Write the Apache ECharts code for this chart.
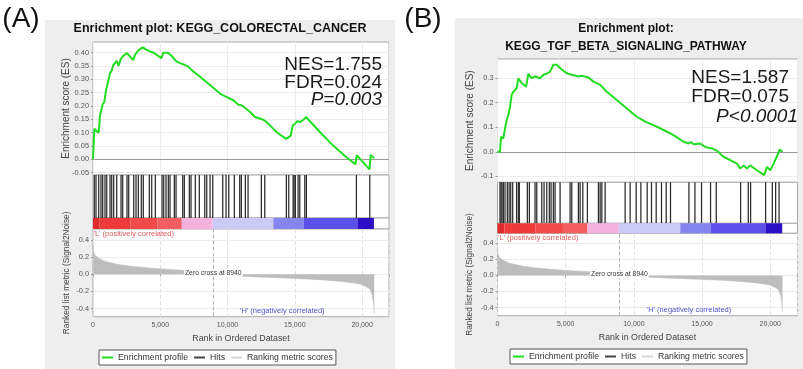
<!DOCTYPE html>
<html><head><meta charset="utf-8">
<script src="https://cdn.jsdelivr.net/npm/echarts@6/dist/echarts.min.js"></script>
<style>html,body{margin:0;padding:0;background:#fff}#c{width:803px;height:369px}</style>
</head><body><div id="c"></div>
<script>
// ================= DATA =================
const rankMax = 22000;
const xTicks = [0, 5000, 10000, 15000, 20000];
const zeroCross = 8940;

const esTicksA = [-0.05, 0.00, 0.05, 0.10, 0.15, 0.20, 0.25, 0.30, 0.35, 0.40];
const esTicksB = [-0.1, 0.0, 0.1, 0.2, 0.3];
const metricTicks = [-0.4, -0.2, 0.0, 0.2, 0.4];

// running enrichment score [rank, ES]
const esA = [[0,0],[25,-0.004],[99,0.114],[421,0.098],[520,0.164],[644,0.170],[719,0.206],[843,0.215],[967,0.259],[1066,0.278],[1165,0.284],[1264,0.322],[1388,0.332],[1512,0.353],[1636,0.360],[1760,0.369],[1908,0.350],[2057,0.375],[2206,0.385],[2330,0.379],[2503,0.398],[2800,0.382],[2999,0.372],[3123,0.391],[3370,0.408],[3494,0.403],[3693,0.419],[3990,0.410],[4238,0.404],[4486,0.400],[4734,0.391],[5081,0.379],[5229,0.400],[5601,0.398],[5849,0.387],[6221,0.366],[6468,0.360],[6840,0.353],[7088,0.347],[7336,0.334],[7955,0.309],[8699,0.278],[9442,0.246],[9938,0.233],[10434,0.221],[10806,0.204],[11053,0.202],[11673,0.177],[12045,0.158],[12664,0.148],[12912,0.139],[13656,0.101],[14349,0.076],[14523,0.082],[14697,0.088],[14845,0.126],[15019,0.133],[15192,0.143],[15390,0.139],[15638,0.148],[15836,0.158],[16877,0.101],[17869,0.050],[18860,0.006],[19504,-0.019],[19603,0.015],[20545,-0.038],[20644,0.016],[20892,0.003]];
const esB = [[0,0],[61,-0.007],[184,0.0],[257,0.061],[428,0.055],[551,0.095],[673,0.130],[795,0.150],[918,0.184],[1040,0.232],[1163,0.245],[1285,0.239],[1407,0.259],[1530,0.300],[1774,0.280],[2093,0.265],[2264,0.318],[2509,0.300],[2753,0.307],[3120,0.300],[3365,0.314],[3610,0.318],[3855,0.327],[4099,0.355],[4344,0.355],[4589,0.341],[4834,0.330],[5078,0.320],[5445,0.314],[5935,0.307],[6180,0.310],[6669,0.303],[7036,0.286],[7525,0.273],[8015,0.245],[8749,0.211],[9483,0.177],[10217,0.143],[10829,0.123],[11441,0.109],[12175,0.089],[12910,0.068],[13644,0.041],[14011,0.034],[14183,0.040],[14378,0.031],[14868,0.034],[15229,0.020],[15719,0.014],[16086,0.005],[16575,-0.020],[17065,-0.034],[17555,-0.048],[17800,-0.068],[18044,-0.055],[18289,-0.068],[18534,-0.055],[19024,-0.075],[19562,-0.095],[19758,-0.061],[20003,-0.075],[20248,-0.048],[20493,-0.018],[20688,0.010],[20900,0.0]];

// hit positions (rank)
const hitsA = [97,223,424,595,721,892,1019,1264,1390,1539,1762,2082,2208,2528,2655,3026,3197,3368,3591,3740,4186,4364,4632,5130,5257,5428,5599,5725,6045,6171,6669,6788,7160,7286,7606,7903,8305,8454,8699,8900,9643,9888,10089,10506,10907,11026,11323,11524,12513,12766,14372,14550,14870,14944,15041,15242,15368,15740,15859,19576,20572];
const hitsB = [184,260,330,430,551,720,850,969,1116,1400,1530,1601,2188,2335,2753,2878,3245,3414,3612,3803,3928,4097,4222,4589,5323,5448,5932,6057,6256,6593,7401,7526,7651,7893,9361,9728,10169,10514,10976,11292,11637,12026,12372,12687,14038,14479,14963,15624,16043,17827,18392,18561,19662,20154,20396,20646];

// ranked list metric [rank, value]
const metric = [[0,0.35],[25,0.27],[150,0.22],[400,0.19],[890,0.15],[1880,0.113],[3000,0.09],[4360,0.07],[5600,0.056],[6840,0.045],[8000,0.022],[8940,0],[10000,-0.012],[11800,-0.028],[14350,-0.045],[16850,-0.063],[18500,-0.085],[19330,-0.10],[20000,-0.12],[20570,-0.17],[20750,-0.24],[20850,-0.33],[20900,-0.46]];

// colour bar bands (rank ranges) and their level
const bandStart = [0, 500, 2800, 4800, 6600, 8900, 13400, 15650, 19650];
const bandEnd   = [500, 2800, 4800, 6600, 8900, 13400, 15650, 19650, 20880];
const bandLevel = [0, 1, 2, 3, 4, 5, 6, 7, 8];

const statsA = ['NES=1.755', 'FDR=0.024', 'P=0.003'];
const statsB = ['NES=1.587', 'FDR=0.075', 'P<0.0001'];
const titleA = ['Enrichment plot: KEGG_COLORECTAL_CANCER'];
const titleB = ['Enrichment plot:', 'KEGG_TGF_BETA_SIGNALING_PATHWAY'];
const legendNames = ['Enrichment profile', 'Hits', 'Ranking metric scores'];

// ================= STYLE / LAYOUT =================
const FONT = '"Liberation Sans", Arial, Helvetica, sans-serif';
const BAND_COLORS = ['#de2a2c', '#ee3a3b', '#f14a4b', '#f45e60', '#f5b2de', '#cbcbf6', '#8585ef', '#5b50e7', '#2c10c6'];
const GREEN = '#22dd22', BORDER = '#a9a9a9', GRIDC = '#ececec', PANEL_BG = '#eeeeee';

const panels = [
  { letter: '(A)', letterPos: [21, 19], bg: [45, 20, 350, 349],
    title: titleA, titleX: 220, titleY: [29], titleSize: 12.5,
    left: 93, width: 296,
    esFrame: [42, 175], esLab: [52.5, 172.5], esTicks: esTicksA, esDec: 2,
    hitsBot: 218, cbBot: 229, mBot: 316.7, mLab: [240, 308.5],
    es: esA, hits: hitsA, stats: statsA, statX: 382, statY: [65, 82.5, 100], statSize: 19,
    lPos: [93.5, 233.5], hPos: [240, 311], legendPos: [99, 350], esNameGap: 21.5, mNameGap: 22 },
  { letter: '(B)', letterPos: [423, 19], bg: [455, 18, 348, 351],
    title: titleB, titleX: 626, titleY: [29, 47], titleSize: 12,
    left: 497.5, width: 300,
    esFrame: [59, 182.3], esLab: [78.2, 176.4], esTicks: esTicksB, esDec: 1,
    hitsBot: 223.3, cbBot: 233.3, mBot: 315.7, mLab: [243.3, 307.5],
    es: esB, hits: hitsB, stats: statsB, statX: 789, statXLast: 798, statY: [77.3, 96.7, 116.7], statSize: 19,
    lPos: [498, 237.7], hPos: [646.7, 310], legendPos: [510, 349], esNameGap: 22.5, mNameGap: 23.5 }
];

const option = { animation: false, textStyle: { fontFamily: FONT },
  grid: [], xAxis: [], yAxis: [], series: [], graphic: [], legend: [] };

function hiddenAxis(gi, min, max) {
  return { type: 'value', gridIndex: gi, min: min, max: max, axisLabel: { show: false },
    axisTick: { show: false }, axisLine: { show: false }, splitLine: { show: false } };
}
function frameRange(labPx, framePx, ticks) {
  const tmin = ticks[0], tmax = ticks[ticks.length - 1];
  const ppu = (labPx[1] - labPx[0]) / (tmax - tmin);
  return [tmin - (framePx[1] - labPx[1]) / ppu, tmax + (labPx[0] - framePx[0]) / ppu];
}
function fmt(v, d) { if (Math.abs(v) < 1e-9) v = 0; return v.toFixed(d); }

panels.forEach(P => {
  const gi = option.grid.length, L = P.left, W = P.width;
  const frameGrid = (top, bot) => ({ left: L, top: top, width: W, height: bot - top, show: true,
    backgroundColor: '#fff', borderColor: BORDER, borderWidth: 1 });
  // 0 ES frame, 1 ES labels, 2 hits, 3 colour bar, 4 metric frame, 5 metric labels
  option.grid.push(frameGrid(P.esFrame[0], P.esFrame[1]));
  option.grid.push({ left: L, top: P.esLab[0], width: W, height: P.esLab[1] - P.esLab[0], show: false });
  option.grid.push(frameGrid(P.esFrame[1], P.hitsBot));
  option.grid.push(frameGrid(P.hitsBot, P.cbBot));
  option.grid.push(frameGrid(P.cbBot, P.mBot));
  option.grid.push({ left: L, top: P.mLab[0], width: W, height: P.mLab[1] - P.mLab[0], show: false });

  const esR = frameRange(P.esLab, P.esFrame, P.esTicks);
  const mR = frameRange(P.mLab, [P.cbBot, P.mBot], metricTicks);
  const esStep = P.esTicks[1] - P.esTicks[0];

  // x axes
  option.xAxis.push(Object.assign(hiddenAxis(gi, 0, rankMax), { interval: 5000,
    splitLine: { show: true, lineStyle: { color: GRIDC } } }));
  option.xAxis.push(hiddenAxis(gi + 1, 0, rankMax));
  option.xAxis.push(hiddenAxis(gi + 2, 0, rankMax));
  option.xAxis.push(hiddenAxis(gi + 3, 0, rankMax));
  option.xAxis.push({ type: 'value', gridIndex: gi + 4, min: 0, max: rankMax, interval: 5000,
    axisLine: { show: false }, axisTick: { show: true, length: 2, lineStyle: { color: '#999' } },
    axisLabel: { fontSize: 7, color: '#555', margin: 5,
      formatter: v => xTicks.includes(v) ? v.toLocaleString('en-US') : '' },
    splitLine: { show: true, lineStyle: { color: '#e2e2e2', type: 'dashed' } },
    name: 'Rank in Ordered Dataset', nameLocation: 'middle', nameGap: 17,
    nameTextStyle: { fontSize: 8.8, color: '#444' } });
  option.xAxis.push(hiddenAxis(gi + 5, 0, rankMax));

  // y axes
  option.yAxis.push(Object.assign(hiddenAxis(gi, esR[0], esR[1]), {
    name: 'Enrichment score (ES)', nameLocation: 'middle', nameGap: P.esNameGap,
    nameTextStyle: { fontSize: 10, color: '#444' } }));
  option.yAxis.push({ type: 'value', gridIndex: gi + 1, min: P.esTicks[0], max: P.esTicks[P.esTicks.length - 1],
    interval: esStep, axisLine: { show: false },
    axisTick: { show: true, length: 2, lineStyle: { color: '#999' } },
    axisLabel: { fontSize: 7.4, color: '#555', margin: 4, formatter: v => fmt(v, P.esDec) },
    splitLine: { show: true, lineStyle: { color: GRIDC } } });
  option.yAxis.push(hiddenAxis(gi + 2, 0, 1));
  option.yAxis.push(hiddenAxis(gi + 3, 0, 1));
  option.yAxis.push(Object.assign(hiddenAxis(gi + 4, mR[0], mR[1]), {
    name: 'Ranked list metric (Signal2Noise)', nameLocation: 'middle', nameGap: P.mNameGap,
    nameTextStyle: { fontSize: 8.3, color: '#444' } }));
  option.yAxis.push({ type: 'value', gridIndex: gi + 5, min: metricTicks[0], max: metricTicks[metricTicks.length - 1],
    interval: metricTicks[1] - metricTicks[0], axisLine: { show: false },
    axisTick: { show: true, length: 2, lineStyle: { color: '#999' } },
    axisLabel: { fontSize: 7.4, color: '#555', margin: 4, formatter: v => fmt(v, 1) },
    splitLine: { show: true, lineStyle: { color: GRIDC } } });

  // series
  option.series.push({ type: 'line', name: legendNames[0], xAxisIndex: gi, yAxisIndex: gi,
    data: P.es, symbol: 'none', color: GREEN, lineStyle: { color: GREEN, width: 2 }, z: 5,
    markLine: { silent: true, symbol: ['none', 'none'], label: { show: false },
      lineStyle: { color: '#9a9a9a', type: 'solid', width: 1 }, data: [{ yAxis: 0 }] } });
  option.series.push({ type: 'custom', name: legendNames[1], xAxisIndex: gi + 2, yAxisIndex: gi + 2,
    data: P.hits.map(h => [h, 0]), encode: { x: 0, y: 1 }, color: '#333',
    renderItem: (params, api) => {
      const a = api.coord([api.value(0), 1]), b = api.coord([api.value(0), 0]);
      return { type: 'line', shape: { x1: a[0], y1: a[1], x2: b[0], y2: b[1] },
        style: { stroke: '#2a2a2a', lineWidth: 1.25 } };
    } });
  option.series.push({ type: 'custom', name: 'colour bar', xAxisIndex: gi + 3, yAxisIndex: gi + 3,
    data: bandStart.map((s, i) => [s, bandEnd[i], bandLevel[i]]), encode: { x: [0, 1] },
    renderItem: (params, api) => {
      const a = api.coord([api.value(0), 1]), b = api.coord([api.value(1), 0]);
      return { type: 'rect', shape: { x: a[0], y: a[1], width: b[0] - a[0], height: b[1] - a[1] },
        style: { fill: BAND_COLORS[api.value(2)] } };
    } });
  option.series.push({ type: 'line', name: legendNames[2], xAxisIndex: gi + 4, yAxisIndex: gi + 4,
    data: metric, symbol: 'none', color: '#bdbdbd',
    lineStyle: { color: '#bdbdbd', width: 0.6 }, areaStyle: { color: '#bdbdbd', opacity: 1 },
    markLine: { silent: true, symbol: ['none', 'none'], label: { show: false },
      lineStyle: { color: '#b5b5b5', type: 'dashed', width: 1 }, data: [{ xAxis: zeroCross }] },
    markPoint: { silent: true, symbol: 'circle', symbolSize: 0,
      data: [{ coord: [zeroCross, 0], label: { show: true, position: 'inside', offset: [0, -1],
        formatter: 'Zero cross at ' + zeroCross, fontSize: 6.8, color: '#333',
        backgroundColor: '#fff', padding: [0, 1] } }] } });

  // graphics
  const g = option.graphic;
  g.push({ type: 'rect', z: -100, silent: true,
    shape: { x: P.bg[0], y: P.bg[1], width: P.bg[2], height: P.bg[3] }, style: { fill: PANEL_BG } });
  g.push({ type: 'text', x: P.letterPos[0], y: P.letterPos[1],
    style: { text: P.letter, fontSize: 28, fontFamily: FONT, fill: '#111', align: 'center', verticalAlign: 'middle' } });
  P.title.forEach((t, i) => g.push({ type: 'text', x: P.titleX, y: P.titleY[i],
    style: { text: t, fontSize: P.titleSize, fontWeight: 'bold', fontFamily: FONT, fill: '#111', align: 'center', verticalAlign: 'middle' } }));
  P.stats.forEach((t, i) => g.push({ type: 'text', z: 10,
    x: (i === 2 && P.statXLast) ? P.statXLast : P.statX, y: P.statY[i],
    style: { text: t, fontSize: P.statSize, fontStyle: i === 2 ? 'italic' : 'normal', fontFamily: FONT,
      fill: '#1a1a1a', align: 'right', verticalAlign: 'middle' } }));
  g.push({ type: 'text', z: 10, x: P.lPos[0], y: P.lPos[1],
    style: { text: "'L' (positively correlated)", fontSize: 7.5, fontFamily: FONT, fill: '#e05a5a', align: 'left', verticalAlign: 'middle' } });
  g.push({ type: 'text', z: 10, x: P.hPos[0], y: P.hPos[1],
    style: { text: "'H' (negatively correlated)", fontSize: 7.5, fontFamily: FONT, fill: '#5252c8', align: 'left', verticalAlign: 'middle' } });

  option.legend.push({ left: P.legendPos[0], top: P.legendPos[1], orient: 'horizontal',
    backgroundColor: '#fff', borderColor: '#555', borderWidth: 1, borderRadius: 0,
    padding: [3, 3, 3, 3], itemGap: 6, itemWidth: 11, itemHeight: 2, icon: 'rect', selectedMode: false,
    textStyle: { fontSize: 8.7, color: '#333' },
    data: [
      { name: legendNames[0], itemStyle: { color: GREEN } },
      { name: legendNames[1], itemStyle: { color: '#444' }, textStyle: { padding: [0, 9, 0, 0] } },
      { name: legendNames[2], itemStyle: { color: '#d6d6d6' } }
    ] });
});

const chart = echarts.init(document.getElementById('c'), null, { renderer: 'canvas' });
chart.setOption(option);
</script>
</body></html>
